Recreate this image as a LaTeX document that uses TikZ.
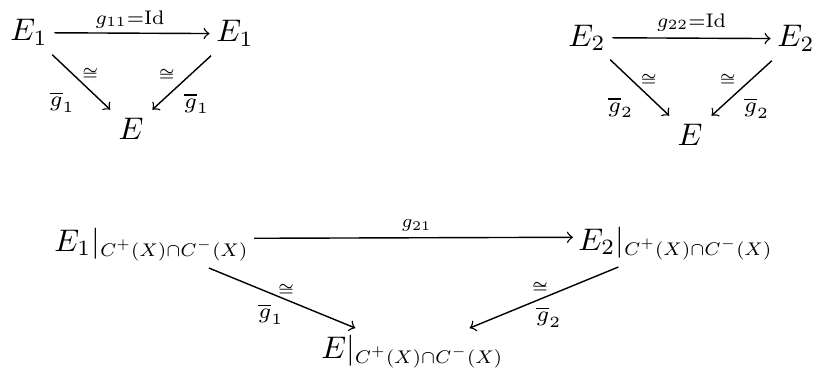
\documentclass[tikz,border=0pt]{standalone}
\usepackage{graphicx}
\usepackage{amsmath,amssymb}
\newcommand{\rsub}{\scalebox{0.84}{$\scriptstyle C^+(X)\cap C^-(X)$}}
\begin{document}
\begin{tikzpicture}[x=0.32pt,y=-0.32pt,
  obj/.style={anchor=base,inner sep=2pt},
  objw/.style={anchor=base west,inner sep=1.5pt},
  arr/.style={->,line width=0.45pt,shorten <=1pt,shorten >=1pt},
  harr/.style={->,line width=0.45pt},
  lbl/.style={inner sep=0pt,font=\scriptsize}]
\useasboundingbox (0,0) rectangle (819,370);
% top-left triangle
\node[obj] (a1) at (29,41) {$E_1$};
\node[obj] (a2) at (235,42) {$E_1$};
\node[obj] (a3) at (131,140) {$E$};
\draw[harr] (a1) -- node[lbl,pos=.5,shift={(-2,-14)}] {\scalebox{0.9}{$g_{11}{=}\mathrm{Id}$}} (a2);
\draw[arr] (a1) -- node[lbl,pos=.5,shift={(9,-8)}] {$\scriptscriptstyle\cong$}
                  node[lbl,pos=.5,shift={(-19,20)}] {$\overline{g}_1$} (a3);
\draw[arr] (a2) -- node[lbl,pos=.5,shift={(-15,-8)}] {$\scriptscriptstyle\cong$}
                  node[lbl,pos=.5,shift={(15,21)}] {$\overline{g}_1$} (a3);
% top-right triangle
\node[obj] (b1) at (587,46) {$E_2$};
\node[obj] (b2) at (796,47) {$E_2$};
\node[obj] (b3) at (690,146) {$E$};
\draw[harr] (b1) -- node[lbl,pos=.5,shift={(0,-16)}] {\scalebox{0.9}{$g_{22}{=}\mathrm{Id}$}} (b2);
\draw[arr] (b1) -- node[lbl,pos=.5,shift={(9,-8)}] {$\scriptscriptstyle\cong$}
                  node[lbl,pos=.5,shift={(-19,20)}] {$\overline{g}_2$} (b3);
\draw[arr] (b2) -- node[lbl,pos=.5,shift={(-14,-8)}] {$\scriptscriptstyle\cong$}
                  node[lbl,pos=.5,shift={(15,20)}] {$\overline{g}_2$} (b3);
% bottom triangle
\node[objw] (c1) at (49,251) {$E_1|_{\rsub}$};
\node[objw] (c2) at (573,250) {$E_2|_{\rsub}$};
\node[objw] (c3) at (316,358) {$E|_{\rsub}$};
\draw[harr] ([yshift=2pt]c1.east) -- node[lbl,pos=.5,shift={(3,-12)}] {\scalebox{0.85}{$g_{21}$}} ([yshift=2pt]c2.west);
\draw[arr] (c1) -- node[lbl,pos=.5,shift={(4,-8)}] {$\scriptscriptstyle\cong$}
                  node[lbl,pos=.5,shift={(-11,16)}] {$\overline{g}_1$} (c3);
\draw[arr] (c2) -- node[lbl,pos=.5,shift={(-4,-10)}] {$\scriptscriptstyle\cong$}
                  node[lbl,pos=.5,shift={(5,20)}] {$\overline{g}_2$} (c3);
\end{tikzpicture}
\end{document}
